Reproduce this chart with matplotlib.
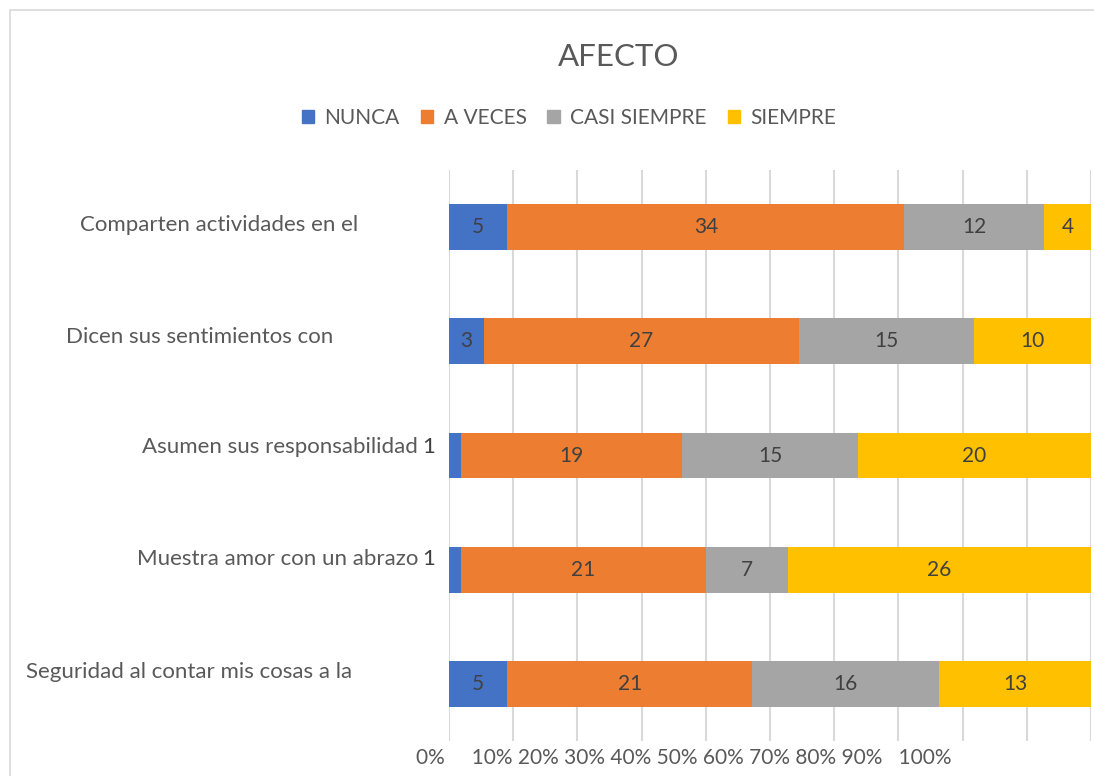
import numpy as np
import matplotlib.pyplot as plt
from matplotlib.patches import Rectangle, Patch

plt.rcParams['font.family'] = ['Lato', 'DejaVu Sans']

categories = ['Comparten actividades en el',
              'Dicen sus sentimientos con',
              'Asumen sus responsabilidad',
              'Muestra amor con un abrazo',
              'Seguridad al contar mis cosas a la']
series = ['NUNCA', 'A VECES', 'CASI SIEMPRE', 'SIEMPRE']
nunca = [5, 3, 1, 1, 5]
a_veces = [34, 27, 19, 21, 21]
casi_siempre = [12, 15, 15, 7, 16]
siempre = [4, 10, 20, 26, 13]
tick_labels = ['0%', '10%', '20%', '30%', '40%', '50%', '60%', '70%', '80%', '90%', '100%']

colors = ['#4472C4', '#ED7D31', '#A5A5A5', '#FFC000']
txt = '#595959'
W, H = 1094, 776

fig = plt.figure(figsize=(W / 100, H / 100), dpi=100)
fig.patches.append(Rectangle((10 / W, -0.1), 1.2, 1.1 - 10 / H, transform=fig.transFigure,
                             fill=False, edgecolor='#d9d9d9', lw=1.2))

ax = fig.add_axes([449 / W, 1 - 741 / H, (1091 - 449) / W, (741 - 170) / H])
data = np.array([nunca, a_veces, casi_siempre, siempre], dtype=float)
shares = data / data.sum(axis=0) * 100
y = np.arange(len(categories))

# category labels (Excel shows only the first wrapped line)
label_right = [358, 333, 418, 418, 352]
label_y = [225, 337, 447, 559, 672]
for name, xr, yy in zip(categories, label_right, label_y):
    fig.text(xr / W, 1 - yy / H, name, ha='right', va='center', fontsize=16, color=txt)

left = np.zeros(len(categories))
for i, name in enumerate(series):
    ax.barh(y, shares[i], left=left, height=0.4, color=colors[i], label=name, zorder=3)
    for j in range(len(categories)):
        if shares[i, j] < 2.5:
            fig.text(435 / W, 1 - label_y[j] / H, f'{int(data[i, j])}', ha='right', va='center',
                     fontsize=16, color='#404040')
        else:
            ax.text(left[j] + shares[i, j] / 2, y[j], f'{int(data[i, j])}',
                    ha='center', va='center', fontsize=15, color='#404040', zorder=4)
    left += shares[i]

ax.set_xlim(0, 100)
ax.set_ylim(len(categories) - 0.5, -0.5)
ax.set_xticks(np.arange(0, 101, 10))
ax.set_xticklabels([])
ax.tick_params(length=0)
ax.set_yticks([])
ax.grid(axis='x', color='#d9d9d9', lw=1.5, zorder=0)
for s in ax.spines.values():
    s.set_visible(False)

# squeezed x tick labels as Excel drew them
fig.text(416 / W, 1 - 758 / H, '0%     ' + ' '.join(tick_labels[1:-1]) + '   ' + tick_labels[-1],
         ha='left', va='center', fontsize=15, color=txt)

fig.text(619 / W, 1 - 57 / H, 'AFECTO', ha='center', va='center', fontsize=22.5, color=txt)

handles = [Patch(color=c) for c in colors]
fig.legend(handles, series, loc='center', bbox_to_anchor=(569 / W, 1 - 118 / H), ncol=4,
           frameon=False, fontsize=15, labelcolor=txt, handlelength=0.6, handleheight=0.6,
           handletextpad=0.5, columnspacing=1.0)

fig.savefig('out.png', dpi=100)
